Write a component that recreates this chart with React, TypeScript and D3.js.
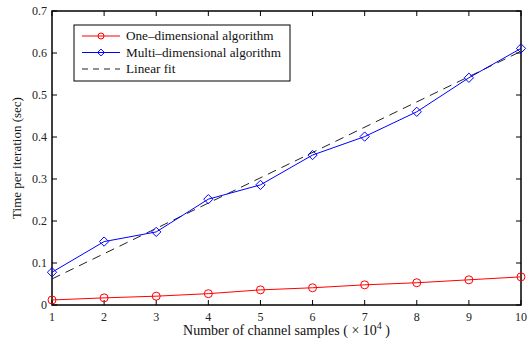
import React, { useEffect, useRef } from "react";
import * as d3 from "d3";

const samples = [1, 2, 3, 4, 5, 6, 7, 8, 9, 10];
const oneDim = [0.012, 0.017, 0.021, 0.027, 0.036, 0.041, 0.048, 0.053, 0.06, 0.067];
const multiDim = [0.078, 0.151, 0.174, 0.252, 0.286, 0.357, 0.401, 0.46, 0.541, 0.611];
const fitX = [1, 10];
const fitY = [0.062, 0.604];
const yTicks = [0, 0.1, 0.2, 0.3, 0.4, 0.5, 0.6, 0.7];

const W = 529;
const H = 345;
const m = { left: 52, right: 8, top: 11, bottom: 40 };
const FONT = "'Liberation Serif', 'Times New Roman', serif";

const App = () => {
  const svgRef = useRef<SVGSVGElement>(null);

  useEffect(() => {
    const svg = d3.select(svgRef.current);
    svg.selectAll("*").remove();

    const x = d3.scaleLinear().domain([1, 10]).range([m.left, W - m.right]);
    const y = d3.scaleLinear().domain([0, 0.7]).range([H - m.bottom, m.top]);
    const x0 = x.range()[0], x1 = x.range()[1];
    const y0 = y.range()[0], y1 = y.range()[1];

    const g = svg.append("g").attr("font-family", FONT);

    // ticks inward on all four sides
    samples.forEach((v) => {
      g.append("line").attr("x1", x(v)).attr("x2", x(v)).attr("y1", y0).attr("y2", y0 - 5).attr("stroke", "#000");
      g.append("line").attr("x1", x(v)).attr("x2", x(v)).attr("y1", y1).attr("y2", y1 + 5).attr("stroke", "#000");
      g.append("text").attr("x", x(v)).attr("y", y0 + 16).attr("text-anchor", "middle")
        .attr("font-size", 12).attr("fill", "#222").text(v);
    });
    yTicks.forEach((v) => {
      g.append("line").attr("x1", x0).attr("x2", x0 + 5).attr("y1", y(v)).attr("y2", y(v)).attr("stroke", "#000");
      g.append("line").attr("x1", x1).attr("x2", x1 - 5).attr("y1", y(v)).attr("y2", y(v)).attr("stroke", "#000");
      g.append("text").attr("x", x0 - 5).attr("y", y(v) + 4).attr("text-anchor", "end")
        .attr("font-size", 12).attr("fill", "#222").text(v);
    });

    g.append("rect").attr("x", x0).attr("y", y1).attr("width", x1 - x0).attr("height", y0 - y1)
      .attr("fill", "none").attr("stroke", "#000").attr("stroke-width", 1.5);

    const line = d3.line<number>().x((d, i) => x(samples[i])).y((d) => y(d));

    g.append("path").datum(fitY)
      .attr("d", d3.line<number>().x((d, i) => x(fitX[i])).y((d) => y(d)))
      .attr("fill", "none").attr("stroke", "#222").attr("stroke-dasharray", "9,6");

    g.append("path").datum(oneDim).attr("d", line).attr("fill", "none").attr("stroke", "#f00");
    g.selectAll(".c").data(oneDim).join("circle").attr("cx", (d, i) => x(samples[i])).attr("cy", (d) => y(d))
      .attr("r", 4).attr("fill", "none").attr("stroke", "#f00");

    g.append("path").datum(multiDim).attr("d", line).attr("fill", "none").attr("stroke", "#00f");
    const diamond = d3.symbol().type(d3.symbolDiamond2).size(55);
    g.selectAll(".d").data(multiDim).join("path")
      .attr("transform", (d, i) => `translate(${x(samples[i])},${y(d)})`)
      .attr("d", diamond).attr("fill", "none").attr("stroke", "#00f");

    // legend
    const lg = g.append("g");
    lg.append("rect").attr("x", 74).attr("y", 25).attr("width", 216).attr("height", 56)
      .attr("fill", "#fff").attr("stroke", "#000");
    const items = [
      { label: "One\u2013dimensional algorithm", color: "#f00", mark: "o" },
      { label: "Multi\u2013dimensional algorithm", color: "#00f", mark: "d" },
      { label: "Linear fit", color: "#222", mark: "" },
    ];
    items.forEach((it, i) => {
      const ly = 36 + i * 16.5;
      lg.append("line").attr("x1", 82).attr("x2", 120).attr("y1", ly).attr("y2", ly).attr("stroke", it.color)
        .attr("stroke-dasharray", it.mark === "" ? "6,5" : null);
      if (it.mark === "o") {
        lg.append("circle").attr("cx", 101).attr("cy", ly).attr("r", 3).attr("fill", "none").attr("stroke", it.color);
      } else if (it.mark === "d") {
        lg.append("path").attr("transform", `translate(101,${ly})`).attr("d", d3.symbol().type(d3.symbolDiamond2).size(30))
          .attr("fill", "none").attr("stroke", it.color);
      }
      lg.append("text").attr("x", 126).attr("y", ly + 4).attr("font-size", 13.2).attr("fill", "#111").text(it.label);
    });

    // axis labels
    const xl = g.append("text").attr("x", (x0 + x1) / 2).attr("y", 335).attr("text-anchor", "middle")
      .attr("font-size", 14).attr("fill", "#111");
    xl.append("tspan").text("Number of channel samples ( \u00d7 10");
    xl.append("tspan").attr("dy", -6).attr("font-size", 10).text("4");
    xl.append("tspan").attr("dy", 6).text(" )");

    g.append("text").attr("transform", `translate(21,${(y0 + y1) / 2}) rotate(-90)`).attr("text-anchor", "middle")
      .attr("font-size", 13).attr("fill", "#111").text("Time per iteration (sec)");
  }, []);

  return (
    <svg ref={svgRef} width={W} height={H} style={{ position: "absolute", left: 0, top: 0, background: "#fff" }} />
  );
};

export default App;
